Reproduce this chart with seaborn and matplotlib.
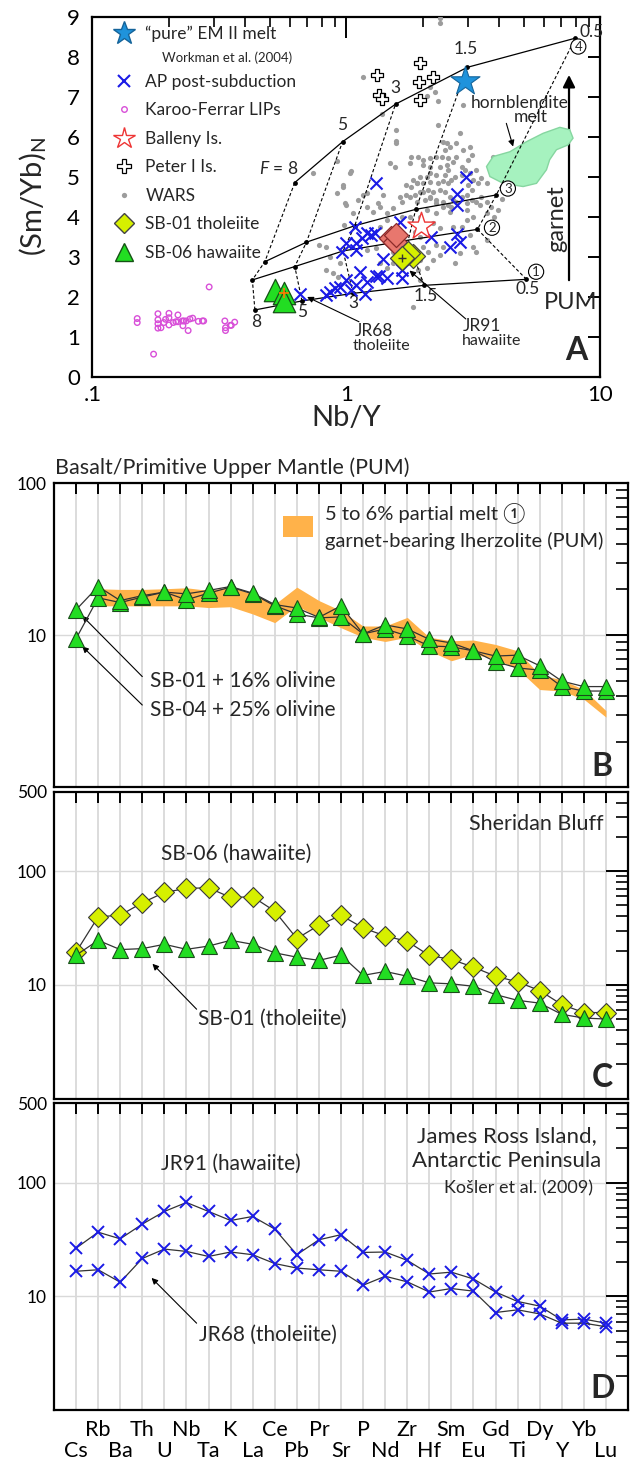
import numpy as np
import pandas as pd
import matplotlib
matplotlib.use('Agg')
from matplotlib import pyplot as plt
from matplotlib.lines import Line2D
from matplotlib.patches import Polygon
from matplotlib.ticker import LogLocator, NullFormatter, FixedLocator
import seaborn as sns

# ---------------- panel A data : Nb/Y vs (Sm/Yb)N ----------------
wars_pts = [(1.16, 7.51), (2.33, 8.84), (2.13, 7.26), (2.23, 7.13), (2.08, 7.03), (2.30, 6.91),
            (2.88, 6.80), (1.38, 6.58), (2.30, 6.30), (1.57, 6.18), (2.79, 6.09), (2.48, 5.84),
            (2.55, 5.76), (2.40, 5.88), (2.71, 5.84), (2.44, 5.68), (2.88, 5.68), (3.06, 5.76),
            (3.11, 5.55), (3.01, 5.43), (2.84, 5.26), (2.92, 5.18), (2.71, 5.51), (2.63, 5.38),
            (2.51, 5.47), (2.37, 5.51), (2.26, 5.51), (2.13, 5.47), (2.00, 5.43), (1.92, 5.51),
            (1.80, 5.51), (1.78, 5.34), (2.00, 5.30), (2.13, 5.26), (2.33, 5.26), (2.48, 5.30),
            (2.51, 5.18), (2.44, 5.05), (2.26, 5.05), (2.13, 5.09), (2.07, 5.01), (1.94, 5.01),
            (1.83, 4.93), (1.89, 4.84), (1.72, 4.80), (2.00, 4.84), (2.13, 4.88), (2.30, 4.84),
            (2.40, 4.91), (2.51, 4.84), (2.59, 4.93), (2.67, 5.01), (2.84, 5.05), (3.06, 5.09),
            (3.25, 5.18), (3.40, 4.97), (3.56, 4.84), (3.30, 4.84), (3.15, 4.93), (3.01, 4.80),
            (3.11, 4.68), (2.97, 4.55), (2.84, 4.51), (2.71, 4.38), (2.55, 4.51), (2.44, 4.63),
            (2.33, 4.68), (2.19, 4.63), (2.10, 4.68), (1.94, 4.63), (1.86, 4.55), (1.78, 4.51),
            (1.89, 4.38), (2.03, 4.43), (2.13, 4.47), (2.26, 4.43), (2.40, 4.38), (2.51, 4.30),
            (2.59, 4.26), (2.97, 4.34), (3.11, 4.43), (3.25, 4.38), (3.40, 4.51), (3.56, 4.38),
            (3.72, 4.26), (3.78, 5.51), (4.60, 5.05), (0.985, 4.34), (0.97, 4.80), (1.03, 5.09),
            (1.48, 5.34), (1.55, 5.26), (1.57, 5.84), (1.39, 4.55), (1.16, 4.55), (1.33, 4.34),
            (1.62, 4.51), (0.914, 4.59), (0.97, 4.76), (1.00, 4.30), (1.11, 4.43), (1.20, 4.26),
            (1.27, 4.13), (1.35, 4.26), (1.44, 4.09), (1.53, 4.22), (1.65, 4.38), (1.72, 4.55),
            (1.80, 4.76), (1.89, 4.84), (2.00, 4.63), (2.13, 4.51), (2.26, 4.34), (2.40, 4.26),
            (2.55, 4.13), (2.63, 4.43), (2.97, 4.18), (3.15, 4.01), (3.35, 4.30), (3.56, 4.09),
            (2.26, 4.09), (2.07, 4.18), (1.94, 4.01), (1.78, 4.01), (1.65, 4.01), (1.44, 3.93),
            (1.35, 3.76), (0.834, 3.26), (0.834, 2.68), (0.887, 2.59), (0.927, 2.51), (0.941, 2.84),
            (0.86, 3.01), (1.20, 3.18), (1.31, 3.22), (1.46, 3.34), (1.53, 3.13), (1.35, 2.84),
            (1.44, 2.72), (1.53, 2.84), (1.86, 3.63), (1.94, 3.51), (2.00, 3.26), (2.10, 3.13),
            (2.26, 3.30), (2.40, 3.26), (2.33, 3.05), (2.19, 2.93), (2.07, 2.72), (1.92, 2.68),
            (1.83, 1.76), (1.94, 2.43), (2.19, 3.84), (2.33, 3.72), (2.63, 3.76), (2.84, 3.76),
            (3.15, 3.26), (3.25, 3.13), (3.56, 3.43), (2.79, 3.09), (2.67, 2.84), (2.97, 3.93),
            (1.83, 3.26), (1.72, 2.93), (1.94, 2.93), (3.06, 3.55), (0.92, 5.39), (1.04, 5.15),
            (0.74, 5.09), (2.33, 8.97), (1.56, 5.90), (3.94, 4.18), (4.10, 4.45), (3.80, 4.00),
            (1.06, 4.10), (0.98, 3.80), (0.78, 3.30), (1.20, 4.60)]

karoo_pts = [(0.150, 1.46), (0.150, 1.36), (0.181, 1.58), (0.181, 1.43), (0.181, 1.33), (0.181, 1.22),
             (0.186, 1.23), (0.191, 1.36), (0.194, 1.44), (0.200, 1.59), (0.200, 1.48), (0.200, 1.30),
             (0.208, 1.36), (0.213, 1.38), (0.217, 1.55), (0.217, 1.38), (0.226, 1.40), (0.227, 1.28),
             (0.229, 1.40), (0.234, 1.40), (0.238, 1.16), (0.242, 1.45), (0.248, 1.47), (0.261, 1.39),
             (0.271, 1.40), (0.274, 1.40), (0.288, 2.25), (0.332, 1.40), (0.334, 1.23), (0.334, 1.16),
             (0.349, 1.29), (0.352, 1.29), (0.363, 1.37), (0.174, 0.57)]

ap_pts = [(1.31, 4.85), (2.95, 5.00), (2.73, 4.58), (2.73, 4.30), (1.62, 3.88), (1.078, 3.76),
          (1.20, 3.59), (1.29, 3.61), (1.146, 3.47), (1.25, 3.55), (1.00, 3.34), (1.095, 3.34),
          (1.095, 3.18), (0.956, 3.13), (1.39, 2.94), (2.16, 3.51), (2.73, 3.58), (2.79, 3.38),
          (2.55, 3.26), (1.13, 2.63), (1.00, 2.43), (0.941, 2.26), (0.86, 2.13), (0.834, 2.05),
          (0.90, 2.22), (1.095, 2.30), (1.20, 2.38), (1.34, 2.53), (1.31, 2.52), (1.44, 2.47),
          (1.18, 2.075), (1.046, 2.17), (1.65, 2.675), (1.65, 2.47), (0.655, 2.075)]

peter_pts = [(1.32, 7.55), (1.34, 7.05), (1.38, 6.95), (1.95, 7.86), (1.93, 7.38), (2.20, 7.50),
             (1.94, 6.92)]
em2_pts = [(2.92, 7.40)]
balleny_pts = [(1.97, 3.78)]
salmon_pts = [(1.50, 3.47), (1.55, 3.38), (1.57, 3.55)]
sb01_pts = [(1.65, 2.98), (1.75, 3.10), (1.83, 3.02)]
sb06_pts = [(0.522, 2.18), (0.566, 2.09), (0.566, 1.91)]

# partial melting curves, F = 8, 5, 3, 1.5, 0.5 %
f_steps = ['8', '5', '3', '1.5', '0.5']
curve1 = [(0.436, 1.675), (0.668, 1.90), (1.062, 2.09), (2.02, 2.29), (5.11, 2.44)]
curve2 = [(0.426, 2.425), (0.626, 2.76), (0.97, 3.15), (1.75, 3.42), (3.28, 3.69)]
curve3 = [(0.477, 2.88), (0.696, 3.37), (1.078, 3.78), (1.874, 4.19), (3.89, 4.55)]
curve4 = [(0.626, 4.86), (0.965, 5.88), (1.56, 6.82), (2.99, 7.74), (7.97, 8.47)]
curve2_dots = [True, True, False, False, True]

hbl_blob = [(3.56, 5.26), (3.78, 5.51), (4.40, 5.63), (5.11, 5.88), (5.94, 6.09), (6.92, 6.24),
            (7.57, 6.18), (7.80, 5.97), (7.45, 5.80), (6.71, 5.68), (6.31, 5.43), (6.13, 5.18),
            (5.60, 4.84), (4.96, 4.76), (4.14, 4.84), (3.67, 5.01)]

# ---------------- panels B-D : multi-element diagrams ----------------
elements = ['Cs', 'Rb', 'Ba', 'Th', 'U', 'Nb', 'Ta', 'K', 'La', 'Ce', 'Pb', 'Pr', 'Sr',
            'P', 'Nd', 'Zr', 'Hf', 'Sm', 'Eu', 'Gd', 'Ti', 'Dy', 'Y', 'Yb', 'Lu']

sb01_olv16 = [14.7, 20.9, 16.9, 18.2, 19.2, 18.7, 19.7, 20.9, 18.9, 15.9, 15.1, 13.1, 15.6,
              10.2, 11.7, 11.0, 9.4, 8.9, 7.9, 7.3, 7.4, 6.3, 5.0, 4.6, 4.6]
sb04_olv25 = [9.5, 17.6, 16.4, 17.8, 19.2, 17.1, 18.9, 20.7, 18.7, 15.6, 13.8, 13.0, 13.2,
              10.2, 11.0, 9.9, 8.5, 8.4, 7.9, 6.7, 6.1, 5.9, 4.6, 4.3, 4.3]
# 5-6 % melt of garnet lherzolite, Rb..Lu
melt_upper = [20.2, 20.0, 20.0, 20.2, 20.5, 19.7, 20.7, 18.7, 16.0, 20.7, 16.9, 14.5,
              11.5, 11.5, 13.1, 9.7, 9.2, 9.3, 8.7, 7.9, 5.5, 5.1, 4.4, 3.2]
melt_lower = [15.6, 15.6, 15.6, 15.6, 15.6, 15.2, 15.4, 13.8, 12.1, 15.6, 13.1, 11.2,
              9.7, 9.1, 9.7, 7.9, 6.8, 7.5, 7.0, 6.0, 4.4, 4.3, 3.8, 2.9]

sb06 = [19.4, 39.6, 40.9, 52.6, 64.9, 70.4, 71.3, 58.6, 59.4, 44.4, 25.5, 33.4, 40.9,
        31.6, 26.9, 24.1, 18.1, 16.7, 14.3, 11.9, 10.6, 8.9, 6.7, 5.7, 5.7]
sb01 = [18.2, 24.6, 20.4, 20.8, 22.7, 20.5, 21.9, 24.6, 22.7, 19.1, 17.5, 16.4, 18.2,
        12.1, 13.1, 11.9, 10.4, 10.2, 9.7, 8.2, 7.3, 6.9, 5.5, 5.1, 5.0]

jr91 = [26.5, 36.6, 32.0, 43.1, 55.7, 66.8, 55.7, 46.4, 50.3, 39.0, 23.2, 31.4, 34.8,
        24.3, 24.5, 20.7, 15.7, 16.3, 14.2, 10.9, 9.0, 8.2, 6.2, 6.3, 5.8]
jr68 = [16.6, 17.1, 13.3, 21.5, 26.0, 24.8, 22.4, 24.5, 23.2, 19.4, 17.7, 17.1, 16.6,
        12.5, 15.0, 13.4, 10.9, 11.7, 11.1, 7.2, 7.6, 7.0, 5.8, 5.8, 5.4]

# colours
GREEN = '#22dd22'
YELLOW = '#d6f000'
BLUE = '#1a1ae6'
ORANGE = '#ffb24a'

sns.set_theme(style='white')
plt.rcParams['font.family'] = ['Lato', 'DejaVu Sans']
plt.rcParams['mathtext.fontset'] = 'custom'
plt.rcParams['mathtext.rm'] = 'Lato'
plt.rcParams['mathtext.it'] = 'Lato:italic'
plt.rcParams['axes.edgecolor'] = 'black'
plt.rcParams['axes.linewidth'] = 1.6

fig = plt.figure(figsize=(6.3, 14.61), dpi=100)

arrow_kw = dict(arrowstyle='-|>', color='black', lw=0.8, mutation_scale=9, shrinkA=0, shrinkB=0)

# ======================= A =======================
axA = fig.add_axes([0.1468, 0.7420, 0.8063, 0.2464])
axA.set_xscale('log')

blob = Polygon(hbl_blob, closed=True, facecolor='#a6f2bf', edgecolor='#86d6a0', lw=1, zorder=3.5)
axA.add_patch(blob)

wars = pd.DataFrame(wars_pts, columns=['nby', 'smyb'])
sns.scatterplot(data=wars, x='nby', y='smyb', ax=axA, color='#9c9c9c', s=14, linewidth=0, zorder=3)

curves = [curve1, curve2, curve3, curve4]
for i in range(len(f_steps)):
    fx = [c[i][0] for c in curves]
    fy = [c[i][1] for c in curves]
    axA.plot(fx, fy, ls=(0, (3, 2)), color='black', lw=0.8, zorder=4)
for k, c in enumerate(curves):
    cdf = pd.DataFrame(c, columns=['nby', 'smyb'])
    sns.lineplot(data=cdf, x='nby', y='smyb', ax=axA, sort=False, estimator=None,
                 color='black', lw=0.9, zorder=4)
    if k == 1:
        cdf = cdf[curve2_dots]
    sns.scatterplot(data=cdf, x='nby', y='smyb', ax=axA, color='black', s=12, linewidth=0, zorder=5)

karoo = pd.DataFrame(karoo_pts, columns=['nby', 'smyb'])
axA.scatter(karoo['nby'], karoo['smyb'], s=16, facecolor='none', edgecolor='#d84fd8', lw=1.0, zorder=5)

ap = pd.DataFrame(ap_pts, columns=['nby', 'smyb'])
axA.scatter(ap['nby'], ap['smyb'], marker='x', s=75, color=BLUE, lw=1.5, zorder=6)

peter = pd.DataFrame(peter_pts, columns=['nby', 'smyb'])
axA.scatter(peter['nby'], peter['smyb'], marker='P', s=80, facecolor='white', edgecolor='black',
            lw=0.9, zorder=6)

em2 = pd.DataFrame(em2_pts, columns=['nby', 'smyb'])
axA.scatter(em2['nby'], em2['smyb'], marker='*', s=480, color='#1f93dc', edgecolor='#15649a',
            lw=0.8, zorder=7)

bal = pd.DataFrame(balleny_pts, columns=['nby', 'smyb'])
axA.scatter(bal['nby'], bal['smyb'], marker='*', s=420, facecolor='white', edgecolor='#ee3535',
            lw=1.0, zorder=7)

sal = pd.DataFrame(salmon_pts, columns=['nby', 'smyb'])
axA.scatter(sal['nby'], sal['smyb'], marker='D', s=150, color='#e8776e', edgecolor='#8b2b2b',
            lw=0.9, zorder=7)

sbA = pd.DataFrame(sb01_pts, columns=['nby', 'smyb'])
axA.scatter(sbA['nby'][::-1], sbA['smyb'][::-1], marker='D', s=150, color=YELLOW, edgecolor='#444444',
            lw=0.9, zorder=7)
axA.scatter(sbA['nby'][:1], sbA['smyb'][:1], marker='+', s=40, color='#333333', lw=1.0, zorder=8)

sb6A = pd.DataFrame(sb06_pts, columns=['nby', 'smyb'])
axA.scatter(sb6A['nby'], sb6A['smyb'], marker='^', s=260, color=GREEN, edgecolor='#155215',
            lw=0.9, zorder=7)
axA.scatter(sb6A['nby'][1:2], sb6A['smyb'][1:2], marker='+', s=60, color='#ff7a00', lw=1.2, zorder=8)

# F labels
axA.text(0.54, 5.22, '$F$ = 8', fontsize=12.5, ha='center', va='center')
for (x, y, s) in [(0.96, 6.30, '5'), (1.56, 7.22, '3'), (2.95, 8.20, '1.5'), (9.25, 8.62, '0.5'),
                  (0.44, 1.37, '8'), (0.667, 1.63, '5'), (1.065, 1.86, '3'), (2.06, 2.03, '1.5'),
                  (5.18, 2.20, '0.5')]:
    axA.text(x, y, s, fontsize=12.5, ha='center', va='center')
for (x, y, s) in [(5.58, 2.63, '1'), (3.74, 3.73, '2'), (4.32, 4.71, '3'), (8.18, 8.26, '4')]:
    axA.text(x, y, s, fontsize=9.5, ha='center', va='center', zorder=9,
             bbox=dict(boxstyle='circle,pad=0.12', fc='white', ec='black', lw=0.8))

axA.text(4.79, 6.86, 'hornblendite', fontsize=12.5, ha='center', va='center')
axA.text(5.32, 6.51, 'melt', fontsize=12.5, ha='center', va='center')
axA.annotate('', xy=(4.53, 5.76), xytext=(4.26, 6.34), arrowprops=arrow_kw)

axA.annotate('', xy=(7.52, 7.62), xytext=(7.52, 2.35),
             arrowprops=dict(arrowstyle='-|>', color='black', lw=1.6, mutation_scale=18))
axA.text(6.7, 3.97, 'garnet', fontsize=17, rotation=90, ha='center', va='center')
axA.text(7.6, 1.86, 'PUM', fontsize=17, ha='center', va='center')

axA.text(1.28, 1.14, 'JR68', fontsize=12.5, ha='center', va='center')
axA.text(1.37, 0.78, 'tholeiite', fontsize=11.5, ha='center', va='center')
axA.annotate('', xy=(0.70, 2.00), xytext=(1.12, 1.38), arrowprops=arrow_kw)
axA.text(3.41, 1.27, 'JR91', fontsize=12.5, ha='center', va='center')
axA.text(3.74, 0.91, 'hawaiite', fontsize=11.5, ha='center', va='center')
axA.annotate('', xy=(1.77, 2.66), xytext=(2.95, 1.45), arrowprops=arrow_kw)

axA.text(8.0, 0.67, 'A', fontsize=23, fontweight='bold', ha='center', va='center')

# legend: first entry on its own so the reference line can sit under it
leg_kw = dict(loc='upper left', frameon=False, fontsize=12.5, handlelength=1.2,
              handletextpad=0.6, labelspacing=0.72, borderpad=0, borderaxespad=0)
leg1 = axA.legend([Line2D([], [], ls='', marker='*', ms=17, mfc='#1f93dc', mec='#15649a')],
                  ['\u201cpure\u201d EM II melt'], bbox_to_anchor=(0.0425, 0.975), **leg_kw)
axA.add_artist(leg1)
handles = [
    Line2D([], [], ls='', marker='x', ms=8, color=BLUE, mew=1.5),
    Line2D([], [], ls='', marker='o', ms=4, mfc='none', mec='#d84fd8'),
    Line2D([], [], ls='', marker='*', ms=16, mfc='white', mec='#ee3535'),
    Line2D([], [], ls='', marker='P', ms=10, mfc='white', mec='black', mew=0.9),
    Line2D([], [], ls='', marker='o', ms=3.8, mfc='#9c9c9c', mec='none'),
    Line2D([], [], ls='', marker='D', ms=10, mfc=YELLOW, mec='#444444'),
    Line2D([], [], ls='', marker='^', ms=13, mfc=GREEN, mec='#155215'),
]
labels = ['AP post-subduction', 'Karoo-Ferrar LIPs', 'Balleny Is.',
          'Peter I Is.', 'WARS', 'SB-01 tholeiite', 'SB-06 hawaiite']
axA.legend(handles, labels, bbox_to_anchor=(0.0425, 0.842), **leg_kw)
axA.text(0.187, 7.98, 'Workman et al. (2004)', fontsize=9.5, ha='left', va='center')

axA.set_xlim(0.1, 10)
axA.set_ylim(0, 9)
axA.set_xticks([0.1, 1, 10])
axA.set_xticklabels(['.1', '1', '10'])
axA.xaxis.set_minor_locator(LogLocator(base=10, subs=np.arange(2, 10)))
axA.xaxis.set_minor_formatter(NullFormatter())
axA.set_yticks(range(10))
axA.tick_params(which='both', direction='in', top=True, right=True, colors='black')
axA.tick_params(axis='x', which='major', length=15, width=1.4, labelsize=16, pad=6)
axA.tick_params(axis='x', which='minor', length=7, width=1.2)
axA.tick_params(axis='y', which='major', length=9, width=1.4, labelsize=16, pad=9)
axA.set_xlabel('Nb/Y', fontsize=21, labelpad=0)
axA.set_ylabel('(Sm/Yb)$_\\mathrm{N}$', fontsize=21, labelpad=14)

# ======================= B-D =======================
pos = np.arange(len(elements))


def spider_axes(rect, ymax):
    ax = fig.add_axes(rect)
    ax.set_yscale('log')
    ax.set_xlim(-1, len(elements))
    ax.set_ylim(1, ymax)
    ax.set_xticks(pos[::2])
    ax.set_xticks(pos[1::2], minor=True)
    ax.set_xticklabels([])
    ax.xaxis.grid(True, which='both', color='#d9d9d9', lw=1.3)
    ax.set_axisbelow(True)
    ax.axhline(10, color='#d9d9d9', lw=1.0, zorder=0)
    ax.axhline(100, color='#d9d9d9', lw=1.0, zorder=0)
    ticks = [10, 100] if ymax <= 100 else [10, 100, 500]
    ax.yaxis.set_major_locator(FixedLocator(ticks))
    ax.set_yticklabels([str(t) for t in ticks])
    ax.yaxis.set_minor_locator(LogLocator(base=10, subs=np.arange(2, 10)))
    ax.yaxis.set_minor_formatter(NullFormatter())
    ax.tick_params(which='both', direction='in', top=True, right=True, colors='black')
    ax.tick_params(axis='x', which='both', length=8, width=1.4)
    ax.tick_params(axis='y', which='major', length=16, width=1.4, labelsize=12.5, pad=5)
    ax.tick_params(axis='y', which='minor', length=9, width=1.2)
    return ax


def spider_line(ax, vals, marker, ms, mfc, mec, mew=0.8):
    sns.lineplot(x=pos, y=vals, ax=ax, color='#333333', lw=0.9, estimator=None, errorbar=None,
                 marker=marker, markersize=ms, markerfacecolor=mfc, markeredgecolor=mec,
                 markeredgewidth=mew, zorder=5)


# ---- B ----
axB = spider_axes([0.0857, 0.4610, 0.9111, 0.2084], 100)
axB.fill_between(pos[1:], melt_lower, melt_upper, color=ORANGE, lw=0, zorder=2)
spider_line(axB, sb04_olv25, '^', 11, GREEN, '#1a4d1a')
spider_line(axB, sb01_olv16, '^', 11, GREEN, '#1a4d1a')
fig.text(55 / 630, 1 - 468 / 1461, 'Basalt/Primitive Upper Mantle (PUM)', fontsize=15.5,
         ha='left', va='center')
axB.add_patch(plt.Rectangle((0.399, 0.8236), 0.0515, 0.069, transform=axB.transAxes,
                            fc=ORANGE, ec='none', zorder=3))
axB.text(0.4715, 0.900, '5 to 6% partial melt \u2460', transform=axB.transAxes, fontsize=14.5,
         ha='left', va='center', family=['Lato', 'DejaVu Sans'])
axB.text(0.4715, 0.8105, 'garnet-bearing lherzolite (PUM)', transform=axB.transAxes,
         fontsize=14.5, ha='left', va='center')
axB.text(3.37, 5.0, 'SB-01 + 16% olivine', fontsize=15, ha='left', va='center')
axB.text(3.37, 3.22, 'SB-04 + 25% olivine', fontsize=15, ha='left', va='center')
axB.annotate('', xy=(0.28, 13.4), xytext=(3.0, 5.35), arrowprops=arrow_kw)
axB.annotate('', xy=(0.28, 8.45), xytext=(3.0, 3.48), arrowprops=arrow_kw)
axB.text(0.955, 0.07, 'B', transform=axB.transAxes, fontsize=23, fontweight='bold',
         ha='center', va='center')

# ---- C ----
axC = spider_axes([0.0857, 0.2481, 0.9111, 0.2101], 500)
spider_line(axC, sb06, 'D', 10, YELLOW, '#3a3a3a')
spider_line(axC, sb01, '^', 11, GREEN, '#1a4d1a')
axC.text(23.9, 257, 'Sheridan Bluff', fontsize=15.5, ha='right', va='center')
axC.text(7.27, 141, 'SB-06 (hawaiite)', fontsize=15, ha='center', va='center')
axC.text(8.9, 5.0, 'SB-01 (tholeiite)', fontsize=15, ha='center', va='center')
axC.annotate('', xy=(3.46, 15.3), xytext=(5.46, 6.1), arrowprops=arrow_kw)
axC.text(0.955, 0.07, 'C', transform=axC.transAxes, fontsize=23, fontweight='bold',
         ha='center', va='center')

# ---- D ----
axD = spider_axes([0.0857, 0.0349, 0.9111, 0.2101], 500)
spider_line(axD, jr91, 'x', 8, BLUE, BLUE, mew=1.4)
spider_line(axD, jr68, 'x', 8, BLUE, BLUE, mew=1.4)
axD.text(19.5, 200, 'James Ross Island,\nAntarctic Peninsula', fontsize=16, ha='center',
         va='center', multialignment='center', linespacing=1.3)
axD.text(23.4, 88, 'Ko\u0161ler et al. (2009)', fontsize=13, ha='right', va='center')
axD.text(7.0, 147, 'JR91 (hawaiite)', fontsize=15, ha='center', va='center')
axD.text(8.7, 4.6, 'JR68 (tholeiite)', fontsize=15, ha='center', va='center')
axD.annotate('', xy=(3.42, 14.5), xytext=(5.46, 5.8), arrowprops=arrow_kw)
axD.text(0.955, 0.07, 'D', transform=axD.transAxes, fontsize=23, fontweight='bold',
         ha='center', va='center')

# element names: odd positions in the upper row, even positions in the lower row
axD.set_xticklabels(elements[::2], fontsize=15.5)
axD.set_xticklabels(elements[1::2], minor=True, fontsize=15.5)
axD.tick_params(axis='x', which='major', pad=22)
axD.tick_params(axis='x', which='minor', pad=7)

fig.savefig('out.png', dpi=100)
